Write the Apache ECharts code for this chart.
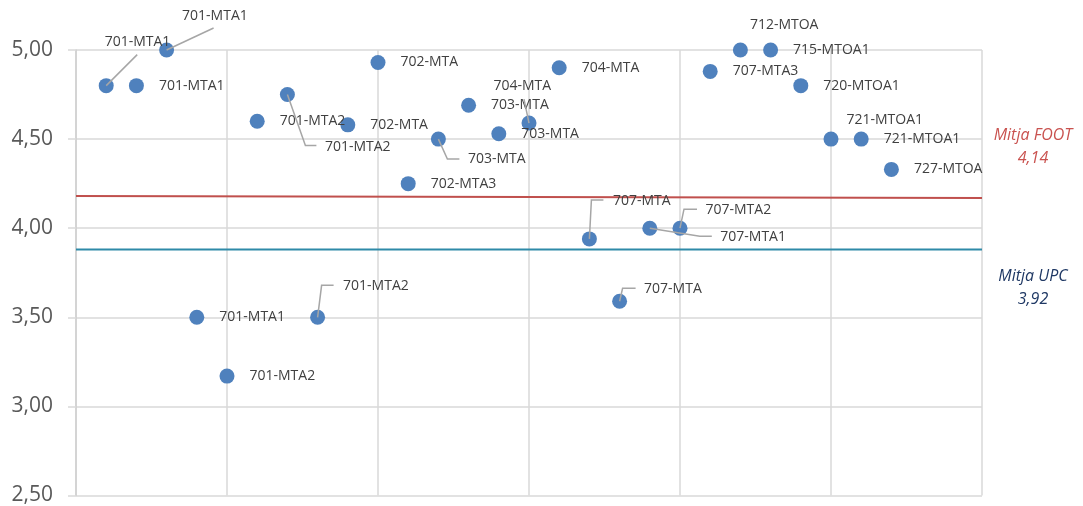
<!DOCTYPE html>
<html><head><meta charset="utf-8">
<script src="https://cdn.jsdelivr.net/npm/echarts@6/dist/echarts.min.js"></script>
<style>html,body{margin:0;padding:0;background:#fff}#c{width:1083px;height:506px}</style>
</head><body><div id="c"></div>
<script>
// ---- data ----
const xPositions = [1,2,3,4,5,6,7,8,9,10,11,12,13,14,15,16,17,18,19,20,21,22,23,24,25,26,27];
const yValues = [4.80,4.80,5.00,3.50,3.17,4.60,4.75,3.50,4.58,4.93,4.25,4.50,4.69,4.53,4.59,4.90,3.94,3.59,4.00,4.00,4.88,5.00,5.00,4.80,4.50,4.50,4.33];
const pointLabels = ['701-MTA1','701-MTA1','701-MTA1','701-MTA1','701-MTA2','701-MTA2','701-MTA2','701-MTA2','702-MTA','702-MTA','702-MTA3','703-MTA','703-MTA','703-MTA','704-MTA','704-MTA','707-MTA','707-MTA','707-MTA1','707-MTA2','707-MTA3','712-MTOA','715-MTOA1','720-MTOA1','721-MTOA1','721-MTOA1','727-MTOA'];
const meanLineX = [0, 30];
const meanFootLine = [4.18, 4.17];
const meanUpcLine = [3.88, 3.88];
const meanFootText = ['Mitja FOOT', '4,14'];
const meanUpcText = ['Mitja UPC', '3,92'];
const yTickValues = [2.5, 3.0, 3.5, 4.0, 4.5, 5.0];
const yTickLabels = ['2,50', '3,00', '3,50', '4,00', '4,50', '5,00'];

// ---- label placement and leader lines (style, pixel offsets from the point) ----
const labelShift = {
  0: {dx: -24, dy: -44, leader: [[0,0],[31,-31]]},
  2: {dx: -7, dy: -34, leader: [[0,0],[47,-22]]},
  6: {dx: 15, dy: 52, leader: [[0,0],[18,51],[29,51]]},
  7: {dx: 3, dy: -31, leader: [[0,0],[4,-32],[16,-32]]},
  11: {dx: 7, dy: 20, leader: [[0,0],[9,20],[21,20]]},
  14: {dx: -58, dy: -37, leader: [[0,0],[-5,-24]]},
  16: {dx: 1, dy: -38, leader: [[0,0],[2,-39],[14,-39]]},
  17: {dx: 2, dy: -12, leader: [[0,0],[3,-13],[16,-13]]},
  18: {dx: 48, dy: 9, leader: [[0,0],[50,8],[62,8]]},
  19: {dx: 3, dy: -18, leader: [[0,0],[4,-19],[17,-19]]},
  21: {dx: -13, dy: -25},
  24: {dx: -7, dy: -19}
};

const scatterData = xPositions.map((x, i) => ({value: [x, yValues[i]], name: pointLabels[i]}));
const leaderData = xPositions.map((x, i) => [x, yValues[i], i]).filter(d => labelShift[d[2]] && labelShift[d[2]].leader);

const chart = echarts.init(document.getElementById('c'));
const FONT = 'Open Sans';
chart.setOption({
  animation: false,
  backgroundColor: '#ffffff',
  grid: {left: 76, right: 101, top: 50, bottom: 10, containLabel: false},
  xAxis: {
    type: 'value', min: 0, max: 30, interval: 5,
    axisLine: {show: false}, axisTick: {show: false}, axisLabel: {show: false},
    splitLine: {show: true, lineStyle: {color: '#d9d9d9', width: 1.5}}
  },
  yAxis: {
    type: 'value', min: 2.5, max: 5, interval: 0.5,
    axisLine: {show: true, lineStyle: {color: '#cfcfcf', width: 1.5}},
    axisTick: {show: true, length: 8, lineStyle: {color: '#d9d9d9', width: 1.5}},
    axisLabel: {
      color: '#595959', fontFamily: FONT, fontSize: 21, margin: 23,
      formatter: v => { const k = yTickValues.findIndex(t => Math.abs(t - v) < 1e-6); return k >= 0 ? yTickLabels[k] : ''; }
    },
    splitLine: {show: true, lineStyle: {color: '#d9d9d9', width: 1.5}}
  },
  series: [
    {
      type: 'line', data: meanLineX.map((x, i) => [x, meanFootLine[i]]),
      symbol: 'none', lineStyle: {color: '#c0504d', width: 2}, z: 3, silent: true
    },
    {
      type: 'line', data: meanLineX.map((x, i) => [x, meanUpcLine[i]]),
      symbol: 'none', lineStyle: {color: '#2e8aa8', width: 2}, z: 3, silent: true
    },
    {
      type: 'scatter', data: scatterData, symbolSize: 15, z: 5,
      itemStyle: {color: '#4f81bd', opacity: 1},
      label: {
        show: true, position: 'right', distance: 15,
        formatter: p => p.name, color: '#404040', fontFamily: FONT, fontSize: 14
      },
      labelLayout: p => {
        const s = labelShift[p.dataIndex];
        return s ? {dx: s.dx, dy: s.dy} : {};
      }
    },
    {
      type: 'custom', data: leaderData, z: 6, silent: true,
      renderItem: (params, api) => {
        const c = api.coord([api.value(0), api.value(1)]);
        const pts = labelShift[api.value(2)].leader.map(o => [c[0] + o[0], c[1] + o[1]]);
        return {type: 'polyline', shape: {points: pts}, style: {stroke: '#a6a6a6', lineWidth: 1.5, fill: null}};
      }
    }
  ],
  graphic: [
    {type: 'text', left: 989, top: 124, style: {text: meanFootText.join('\n'), fill: '#c9524f', font: 'italic 16px "Open Sans"', textAlign: 'center', lineHeight: 23, width: 88}},
    {type: 'text', left: 994, top: 265, style: {text: meanUpcText.join('\n'), fill: '#1f3864', font: 'italic 16px "Open Sans"', textAlign: 'center', lineHeight: 23, width: 78}}
  ]
});
</script></body></html>
